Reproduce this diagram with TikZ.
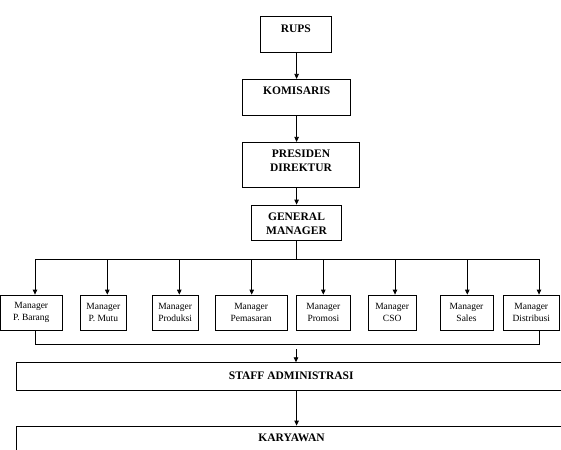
\documentclass[tikz,border=0pt]{standalone}
\usepackage{fontspec}
\setmainfont{Liberation Serif}
\usetikzlibrary{arrows.meta}
\begin{document}
\begin{tikzpicture}[x=1pt,y=-1pt,
  box/.style={draw=black,line width=0.8pt,inner sep=0pt},
  hd/.style={font=\fontsize{11.5}{14}\selectfont\bfseries,align=center,inner sep=0pt},
  mg/.style={font=\fontsize{9.5}{12.3}\selectfont,align=center,inner sep=0pt},
  ln/.style={line width=0.8pt},
  arr/.style={line width=0.8pt,-{Triangle[length=5pt,width=4.5pt]}}]
\useasboundingbox (0,0) rectangle (561,449);
\clip (0,0) rectangle (561,449);
% top chain
\node[box,minimum width=71.7pt,minimum height=36.3pt] (rups) at (295.85,34.15) {};
\node[box,minimum width=108pt,minimum height=36.4pt] (kom) at (296.7,97.5) {};
\node[box,minimum width=116.6pt,minimum height=45pt] (pres) at (301,164.8) {};
\node[box,minimum width=89.3pt,minimum height=35.7pt] (gm) at (296.35,222.85) {};
\node[hd] (rupsT) at (295.85,28.3) {RUPS};
\node[hd] (komT) at (296.7,91) {KOMISARIS};
\node[hd] (presT) at (301,161) {PRESIDEN\\DIREKTUR};
\node[hd] (gmT) at (296.5,224) {GENERAL\\MANAGER};
% managers
\node[box,mg,minimum width=61.5pt,minimum height=35pt] (m1) at (31.25,312.5) {Manager\\P. Barang};
\node[box,mg,minimum width=45.3pt,minimum height=35pt] (m2) at (103.35,312.5) {Manager\\P. Mutu};
\node[box,mg,minimum width=45.7pt,minimum height=35pt] (m3) at (175.15,312.5) {Manager\\Produksi};
\node[box,mg,minimum width=72.3pt,minimum height=35pt] (m4) at (251.15,312.5) {Manager\\Pemasaran};
\node[box,mg,minimum width=54.7pt,minimum height=35pt] (m5) at (323.35,312.5) {Manager\\Promosi};
\node[box,mg,minimum width=47.7pt,minimum height=35pt] (m6) at (392.15,312.5) {Manager\\CSO};
\node[box,mg,minimum width=53pt,minimum height=35pt] (m7) at (466.5,312.5) {Manager\\Sales};
\node[box,mg,minimum width=55.5pt,minimum height=35pt] (m8) at (531.25,312.5) {Manager\\Distribusi};
% bottom boxes
\node[box,minimum width=549.5pt,minimum height=27.3pt] (staff) at (291.25,376.35) {};
\node[box,minimum width=549.5pt,minimum height=30pt] (kary) at (291.25,441) {};
\node[hd] (staffT) at (291.25,376) {STAFF ADMINISTRASI};
\node[hd] (karyT) at (291.5,437.3) {KARYAWAN};
% coordinates
\coordinate (spine) at (296.6,0);
\coordinate (bus) at (0,259);
\coordinate (bus2) at (0,344.3);
\coordinate (a1) at (35,0);
\coordinate (a2) at (107.3,0);
\coordinate (a3) at (179.3,0);
\coordinate (a4) at (251.7,0);
\coordinate (a5) at (323.3,0);
\coordinate (a6) at (395,0);
\coordinate (a7) at (467.3,0);
\coordinate (a8) at (539,0);
\coordinate (s0) at (296,349);
% connectors
\draw[arr] (spine |- rups.south) -- (spine |- kom.north);
\draw[arr] (spine |- kom.south) -- (spine |- pres.north);
\draw[arr] (spine |- pres.south) -- (spine |- gm.north);
\draw[ln] (spine |- gm.south) -- (spine |- bus);
\draw[ln] (a1 |- bus) -- (a8 |- bus);
\foreach \i in {1,...,8}{
  \draw[arr] (a\i |- bus) -- (a\i |- m\i.north);
}
\draw[ln] (a1 |- m1.south) -- (a1 |- bus2) -- (a8 |- bus2) -- (a8 |- m8.south);
\draw[arr] (s0) -- (s0 |- staff.north);
\draw[arr] (spine |- staff.south) -- (spine |- kary.north);
\end{tikzpicture}
\end{document}
